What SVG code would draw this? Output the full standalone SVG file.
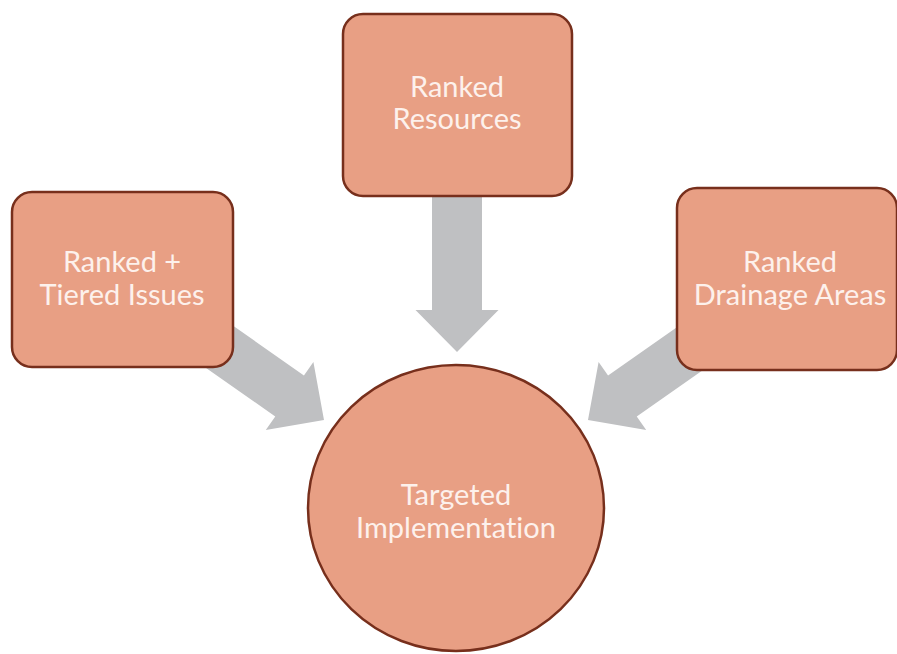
<svg xmlns="http://www.w3.org/2000/svg" width="897" height="654" viewBox="0 0 897 654">
<style>
.node{fill:#e89f84;stroke:#772f1c;stroke-width:2.5}
.arrow{fill:#bfc0c2}
.lbl{font-family:Lato,"Open Sans",sans-serif;font-size:29px;fill:#fdf1ec;text-anchor:middle;font-variant-ligatures:none}
</style>
<defs>
<path id="arr" d="M0,0 L-42,-41.5 L-42,-25 L-190,-25 L-190,25 L-42,25 L-42,41.5 Z"/>
</defs>
<rect width="897" height="654" fill="#ffffff"/>
<g id="connectors">
<use href="#arr" class="arrow" transform="translate(457,352) rotate(90)"/>
<use href="#arr" class="arrow" transform="translate(324,420) rotate(35)"/>
<use href="#arr" class="arrow" transform="translate(588,420) rotate(145)"/>
</g>
<g id="node-resources">
<rect class="node" x="343" y="14" width="229" height="182" rx="20"/>
<text class="lbl" x="457" y="97">Ranked</text>
<text class="lbl" x="457" y="129">Resources</text>
</g>
<g id="node-issues">
<rect class="node" x="12" y="192" width="221" height="175" rx="20"/>
<text class="lbl" x="122" y="272">Ranked +</text>
<text class="lbl" x="122" y="305">Tiered Issues</text>
</g>
<g id="node-drainage">
<rect class="node" x="677" y="188" width="220" height="182" rx="20"/>
<text class="lbl" x="790" y="272">Ranked</text>
<text class="lbl" x="790" y="305">Drainage Areas</text>
</g>
<g id="node-implementation">
<ellipse class="node" cx="456" cy="508" rx="148" ry="143"/>
<text class="lbl" x="456" y="505">Targeted</text>
<text class="lbl" x="456" y="538">Implementation</text>
</g>
</svg>
